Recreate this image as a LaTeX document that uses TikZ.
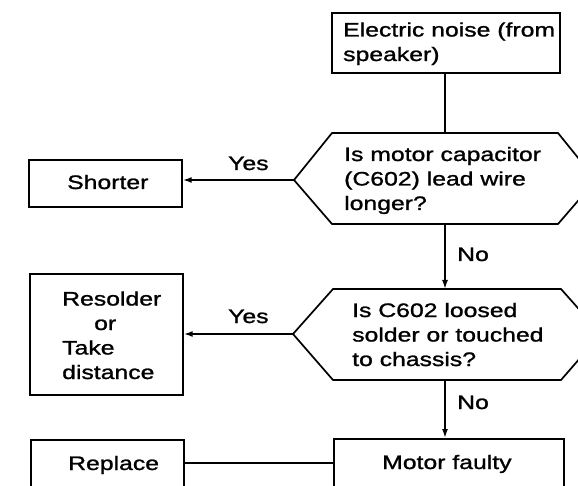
\documentclass[tikz,border=0pt]{standalone}
\usepackage{fontspec}
\usetikzlibrary{arrows.meta}
\newfontfamily\labfont[FakeStretch=1.27,FakeBold=1.2]{Liberation Sans}
\begin{document}
\begin{tikzpicture}[x=1pt,y=-1pt,
  box/.style={draw,line width=1.7pt,inner sep=0pt,anchor=north west},
  txt/.style={font=\labfont\fontsize{19.5}{24.5}\selectfont,inner sep=0pt,anchor=base west,align=left},
  line/.style={line width=1.7pt},
  arr/.style={line width=1.7pt,-{Latex[length=9pt,width=6pt]}}]
\clip (0,0) rectangle (578,486);
\fill[white] (0,0) rectangle (578,486);
% boxes
\node[box,minimum width=228pt,minimum height=60pt] (top) at (331,12) {};
\node[box,minimum width=153pt,minimum height=47pt] (short) at (28,159) {};
\node[box,minimum width=153pt,minimum height=121pt] (resol) at (29,273) {};
\node[box,minimum width=153pt,minimum height=70pt] (repl) at (30,439) {};
\node[box,minimum width=230pt,minimum height=70pt] (motor) at (333,438) {};
% decision 1
\coordinate (d1w) at (294,180);
\coordinate (d1n) at (445,133);
\coordinate (d1s) at (445,224);
\draw[line] (d1w) -- (332,133) -- (558,133) -- (596,180) -- (558,224) -- (332,224) -- cycle;
% decision 2
\coordinate (d2w) at (293,334);
\coordinate (d2n) at (445,289);
\coordinate (d2s) at (445,380);
\draw[line] (d2w) -- (333,289) -- (561,289) -- (601,334) -- (561,380) -- (333,380) -- cycle;
% texts (base anchor = baseline of last line)
\node[txt] (t1) at (343,61) {Electric noise (from\\speaker)};
\node[txt] (t2) at (344,210) {Is motor capacitor\\(C602) lead wire\\longer?};
\node[txt] (t3) at (352,366) {Is C602 loosed\\solder or touched\\to chassis?};
\node[txt] (t4) at (382,469) {Motor faulty};
\node[txt] (t5) at (67,189) {Shorter};
\node[txt] (t6) at (68,470) {Replace};
\node[txt] (t7) at (62,379) {Resolder\\\hspace*{32pt}or\\Take\\distance};
% connectors
\draw[line] (top.south -| d1n) -- (d1n);
\draw[arr] (d1s) -- (d2n);
\node[txt] (no1) at (457,261) {No};
\draw[arr] (d2s) -- (d2s |- motor.north);
\node[txt] (no2) at (457,409) {No};
\draw[arr] (d1w) -- (short.east |- d1w);
\node[txt] (yes1) at (228,170) {Yes};
\draw[arr] (d2w) -- (resol.east |- d2w);
\node[txt] (yes2) at (228,323) {Yes};
\draw[line] (repl.east |- 0,463) -- (motor.west |- 0,463);
\end{tikzpicture}
\end{document}
